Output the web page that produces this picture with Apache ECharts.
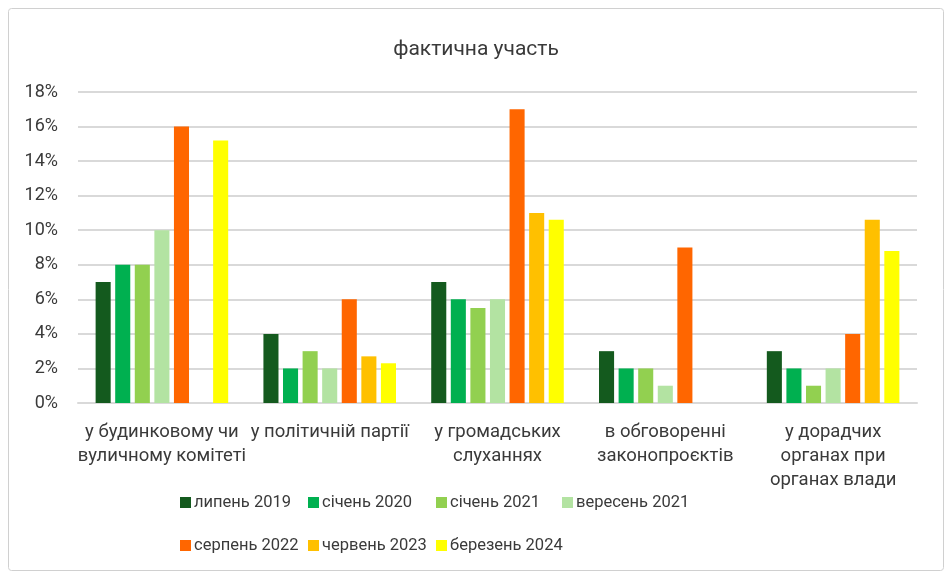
<!DOCTYPE html>
<html><head><meta charset="utf-8">
<script src="https://cdn.jsdelivr.net/npm/echarts@6/dist/echarts.min.js"></script>
<style>html,body{margin:0;padding:0;background:#fff}#c{width:952px;height:577px}</style>
</head><body><div id="c"></div>
<script>
const categories = ['у будинковому чи\nвуличному комітеті', 'у політичній партії', 'у громадських\nслуханнях', 'в обговоренні\nзаконопроєктів', 'у дорадчих\nорганах при\nорганах влади'];
const seriesNames = ['липень 2019', 'січень 2020', 'січень 2021', 'вересень 2021', 'серпень 2022', 'червень 2023', 'березень 2024'];
const jul2019 = [7, 4, 7, 3, 3];
const jan2020 = [8, 2, 6, 2, 2];
const jan2021 = [8, 3, 5.5, 2, 1];
const sep2021 = [10, 2, 6, 1, 2];
const aug2022 = [16, 6, 17, 9, 4];
const jun2023 = [null, 2.7, 11, null, 10.6];
const mar2024 = [15.2, 2.3, 10.6, null, 8.8];
const yTicks = [0, 2, 4, 6, 8, 10, 12, 14, 16, 18];

const values = [jul2019, jan2020, jan2021, sep2021, aug2022, jun2023, mar2024];
const colors = ['#145A1E', '#00B050', '#92D050', '#B3E3A2', '#FF6600', '#FFC000', '#FFFF00'];
const font = 'Roboto';
const txt = '#3a3a3a';

const legendPos = [[180, 494], [308, 494], [436, 494], [562, 494], [180, 537], [308, 537], [436, 537]];
const legends = seriesNames.map((n, i) => ({
  data: [n], left: legendPos[i][0], top: legendPos[i][1], itemWidth: 11, itemHeight: 11, itemGap: 4, padding: 0,
  icon: 'rect', textStyle: {fontFamily: font, fontSize: 16.5, color: txt, padding: [0, 0, 0, -2]}, selectedMode: false
}));

const chart = echarts.init(document.getElementById('c'), null, {renderer: 'canvas'});
chart.setOption({
  animation: false,
  title: {text: 'фактична участь', left: 'center', top: 34, textStyle: {fontFamily: font, fontSize: 21, fontWeight: 'normal', color: txt}},
  graphic: [{type: 'rect', shape: {x: 8.5, y: 8.5, width: 935, height: 562, r: 3}, style: {fill: 'none', stroke: '#d0d0d0', lineWidth: 1}, silent: true}],
  legend: legends,
  grid: {left: 78, right: 35, top: 92, bottom: 174},
  xAxis: {
    type: 'category', data: categories,
    axisLine: {show: true, lineStyle: {color: '#d9d9d9', width: 2}},
    axisTick: {show: false},
    axisLabel: {fontFamily: font, fontSize: 18.5, color: txt, margin: 17, lineHeight: 24, interval: 0}
  },
  yAxis: {
    type: 'value', min: 0, max: 18, interval: 2,
    axisLine: {show: false}, axisTick: {show: false},
    splitLine: {lineStyle: {color: '#d9d9d9', width: 2}},
    axisLabel: {fontFamily: font, fontSize: 18, color: txt, margin: 20, formatter: v => yTicks.includes(v) ? v + '%' : ''}
  },
  series: seriesNames.map((n, i) => ({
    name: n, type: 'bar', data: values[i], barGap: '30%', barCategoryGap: '21%',
    itemStyle: {color: colors[i]}
  }))
});
</script></body></html>
